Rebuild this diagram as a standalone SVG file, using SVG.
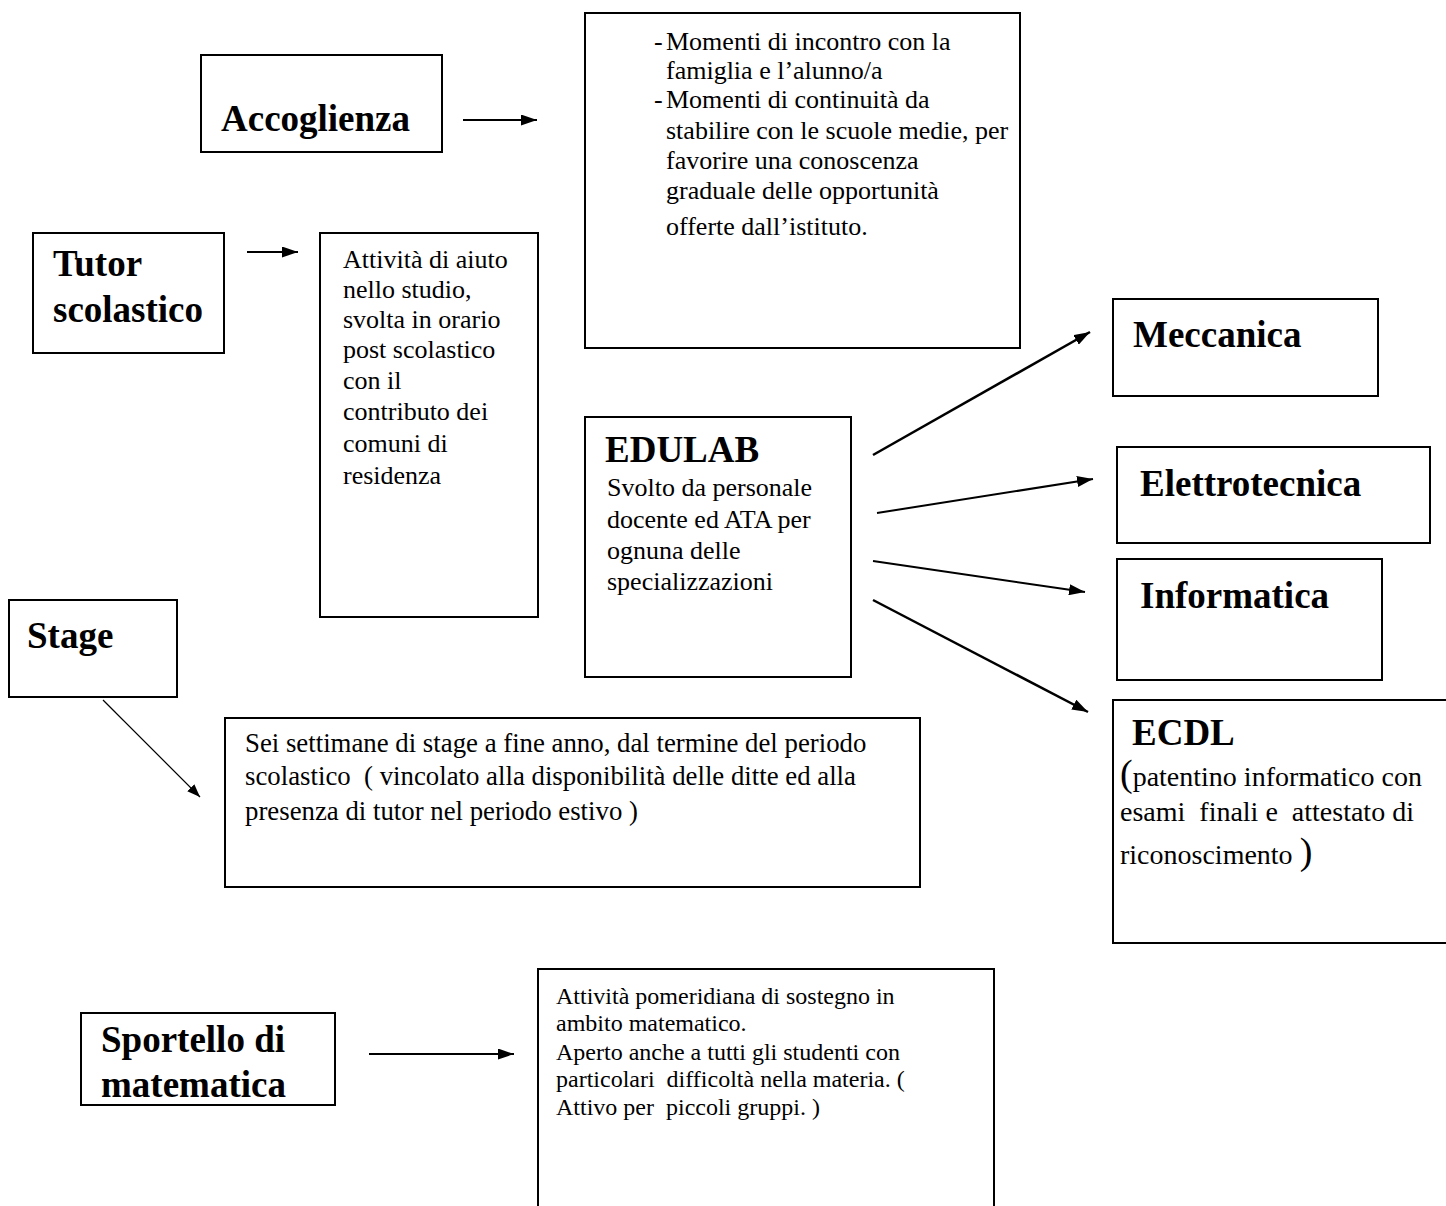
<svg xmlns="http://www.w3.org/2000/svg" width="1446" height="1206" viewBox="0 0 1446 1206">
<style>
  .box { fill: #fff; stroke: #000; stroke-width: 2; }
  .t { font-family: "Liberation Serif", "Times New Roman", serif; fill: #000; }
  .h { font-size: 37px; font-weight: bold; }
  .b { font-size: 26px; }
  .g { font-size: 26.8px; }
  .e { font-size: 28px; }
  .s { font-size: 24px; }
  .con { stroke: #000; fill: none; }
</style>
<defs>
  <marker id="ah" viewBox="0 0 16 11" refX="16" refY="5.5" markerWidth="16" markerHeight="11" markerUnits="userSpaceOnUse" orient="auto">
    <path d="M0,0 L16,5.5 L0,11 z" fill="#000"/>
  </marker>
  <marker id="ahs" viewBox="0 0 13 10" refX="13" refY="5" markerWidth="13" markerHeight="10" markerUnits="userSpaceOnUse" orient="auto">
    <path d="M0,0 L13,5 L0,10 z" fill="#000"/>
  </marker>
</defs>

<g id="connectors">
  <line class="con" x1="463" y1="120" x2="537" y2="120" stroke-width="2" marker-end="url(#ah)"/>
  <line class="con" x1="247" y1="252" x2="298" y2="252" stroke-width="2" marker-end="url(#ah)"/>
  <line class="con" x1="873" y1="455" x2="1090" y2="332" stroke-width="2.5" marker-end="url(#ah)"/>
  <line class="con" x1="877" y1="513" x2="1093" y2="479" stroke-width="2" marker-end="url(#ah)"/>
  <line class="con" x1="873" y1="561" x2="1085" y2="592" stroke-width="2" marker-end="url(#ah)"/>
  <line class="con" x1="873" y1="600" x2="1088" y2="712" stroke-width="2.5" marker-end="url(#ah)"/>
  <line class="con" x1="103" y1="700" x2="200" y2="797" stroke-width="1.2" marker-end="url(#ahs)"/>
  <line class="con" x1="369" y1="1054" x2="514" y2="1054" stroke-width="2" marker-end="url(#ah)"/>
</g>

<g id="accoglienza">
  <rect class="box" x="201" y="55" width="241" height="97"/>
  <text class="t h" x="221" y="131">Accoglienza</text>
</g>

<g id="accoglienza-desc">
  <rect class="box" x="585" y="13" width="435" height="335"/>
  <text class="t b" x="654" y="50">-</text>
  <text class="t b" x="666" y="50">Momenti di incontro con la</text>
  <text class="t b" x="666" y="79">famiglia e l’alunno/a</text>
  <text class="t b" x="654" y="108">-</text>
  <text class="t b" x="666" y="108">Momenti di continuità da</text>
  <text class="t b" x="666" y="139">stabilire con le scuole medie, per</text>
  <text class="t b" x="666" y="169">favorire una conoscenza</text>
  <text class="t b" x="666" y="199">graduale delle opportunità</text>
  <text class="t b" x="666" y="235">offerte dall’istituto.</text>
</g>

<g id="tutor">
  <rect class="box" x="33" y="233" width="191" height="120"/>
  <text class="t h" x="53" y="276">Tutor</text>
  <text class="t h" x="53" y="322">scolastico</text>
</g>

<g id="tutor-desc">
  <rect class="box" x="320" y="233" width="218" height="384"/>
  <text class="t b" x="343" y="268">Attività di aiuto</text>
  <text class="t b" x="343" y="298">nello studio,</text>
  <text class="t b" x="343" y="328">svolta in orario</text>
  <text class="t b" x="343" y="358">post scolastico</text>
  <text class="t b" x="343" y="389">con il</text>
  <text class="t b" x="343" y="420">contributo dei</text>
  <text class="t b" x="343" y="452">comuni di</text>
  <text class="t b" x="343" y="484">residenza</text>
</g>

<g id="edulab">
  <rect class="box" x="585" y="417" width="266" height="260"/>
  <text class="t h" x="605" y="462">EDULAB</text>
  <text class="t b" x="607" y="496">Svolto da personale</text>
  <text class="t b" x="607" y="528">docente ed ATA per</text>
  <text class="t b" x="607" y="559">ognuna delle</text>
  <text class="t b" x="607" y="590">specializzazioni</text>
</g>

<g id="meccanica">
  <rect class="box" x="1113" y="299" width="265" height="97"/>
  <text class="t h" x="1133" y="347">Meccanica</text>
</g>

<g id="elettrotecnica">
  <rect class="box" x="1117" y="447" width="313" height="96"/>
  <text class="t h" x="1140" y="496">Elettrotecnica</text>
</g>

<g id="informatica">
  <rect class="box" x="1117" y="559" width="265" height="121"/>
  <text class="t h" x="1140" y="608">Informatica</text>
</g>

<g id="ecdl">
  <rect class="box" x="1113" y="700" width="340" height="243"/>
  <text class="t h" x="1132" y="745">ECDL</text>
  <text class="t e" x="1120" y="786"><tspan font-size="38">(</tspan>patentino informatico con</text>
  <text class="t e" x="1120" y="821" xml:space="preserve">esami  finali e  attestato di</text>
  <text class="t e" x="1120" y="864" xml:space="preserve">riconoscimento <tspan font-size="38">)</tspan></text>
</g>

<g id="stage">
  <rect class="box" x="9" y="600" width="168" height="97"/>
  <text class="t h" x="27" y="648">Stage</text>
</g>

<g id="stage-desc">
  <rect class="box" x="225" y="718" width="695" height="169"/>
  <text class="t g" x="245" y="752">Sei settimane di stage a fine anno, dal termine del periodo</text>
  <text class="t g" x="245" y="785" xml:space="preserve">scolastico  ( vincolato alla disponibilità delle ditte ed alla</text>
  <text class="t g" x="245" y="820">presenza di tutor nel periodo estivo )</text>
</g>

<g id="sportello">
  <rect class="box" x="81" y="1013" width="254" height="92"/>
  <text class="t h" x="101" y="1052">Sportello di</text>
  <text class="t h" x="101" y="1097">matematica</text>
</g>

<g id="sportello-desc">
  <rect class="box" x="538" y="969" width="456" height="250"/>
  <text class="t s" x="556" y="1004">Attività pomeridiana di sostegno in</text>
  <text class="t s" x="556" y="1031">ambito matematico.</text>
  <text class="t s" x="556" y="1060">Aperto anche a tutti gli studenti con</text>
  <text class="t s" x="556" y="1087" xml:space="preserve">particolari  difficoltà nella materia. (</text>
  <text class="t s" x="556" y="1115" xml:space="preserve">Attivo per  piccoli gruppi. )</text>
</g>
</svg>
